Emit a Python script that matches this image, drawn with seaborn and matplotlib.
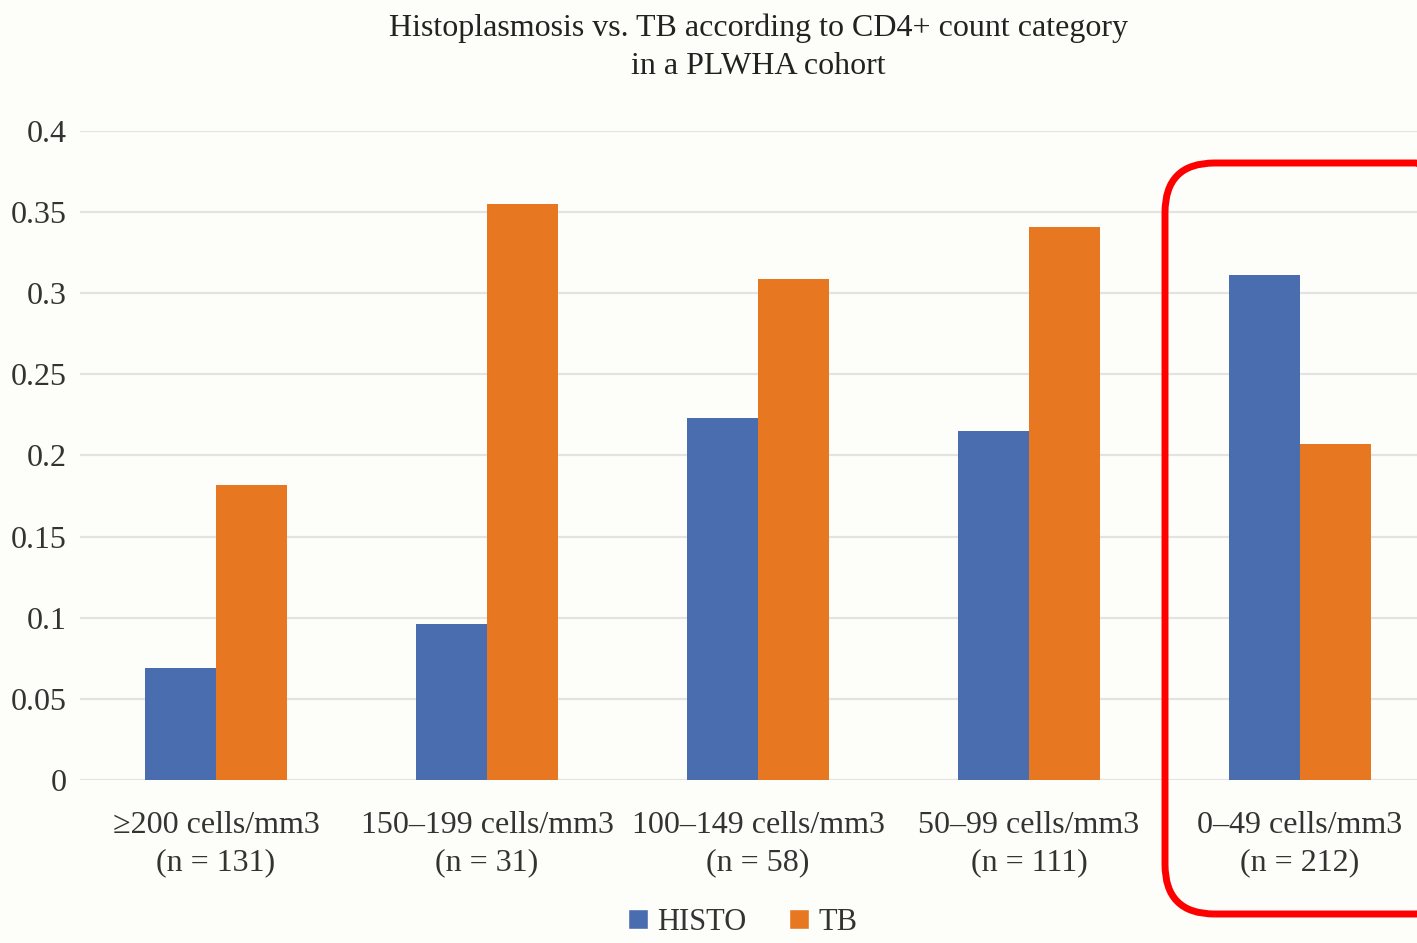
import pandas as pd
import seaborn as sns
import matplotlib.pyplot as plt
from matplotlib.patches import FancyBboxPatch, Patch

# data
categories = ["\u2265200 cells/mm3\n(n = 131)", "150\u2013199 cells/mm3\n(n = 31)",
              "100\u2013149 cells/mm3\n(n = 58)", "50\u201399 cells/mm3\n(n = 111)",
              "0\u201349 cells/mm3\n(n = 212)"]
histo = [0.069, 0.096, 0.223, 0.215, 0.311]
tb = [0.182, 0.355, 0.309, 0.341, 0.207]
series = ["HISTO", "TB"]
yticks = [0, 0.05, 0.1, 0.15, 0.2, 0.25, 0.3, 0.35, 0.4]

colors = {"HISTO": "#4A6DAF", "TB": "#E87722"}
bg = "#FDFDF9"

df = pd.DataFrame({
    "cat": categories * 2,
    "series": ["HISTO"] * len(categories) + ["TB"] * len(categories),
    "value": histo + tb,
})

sns.set_theme(style="white")
plt.rcParams["font.family"] = ["Liberation Serif", "DejaVu Serif"]

fig = plt.figure(figsize=(14.17, 9.43), dpi=100, facecolor=bg)
ax = fig.add_axes([0.0568, 0.1729, 0.9563, 0.6882])
ax.set_facecolor(bg)

sns.barplot(data=df, x="cat", y="value", hue="series", order=categories,
            hue_order=series, palette=colors, width=0.524, saturation=1,
            linewidth=0, ax=ax, legend=False)

ax.set_ylim(0, 0.4)
ax.set_xlim(-0.5, 4.5)
ax.set_yticks(yticks)
ax.set_yticklabels(["%g" % t for t in yticks])
ax.yaxis.grid(True, color="#E3E3E3", linewidth=1.6)
ax.set_axisbelow(True)
for s in ax.spines.values():
    s.set_visible(False)
ax.tick_params(axis="both", length=0, labelsize=23, colors="#333333")
ax.tick_params(axis="y", pad=10)
ax.tick_params(axis="x", pad=22)
for lbl in ax.get_xticklabels():
    lbl.set_linespacing(1.4)
ax.set_xlabel("")
ax.set_ylabel("")

fig.text(0.535, 1 - 47 / 943, "Histoplasmosis vs. TB according to CD4+ count category\nin a PLWHA cohort",
         ha="center", va="center", fontsize=23, color="#222222", linespacing=1.4)

handles = [Patch(facecolor=colors[s], label=s) for s in series]
fig.legend(handles=handles, loc="center", bbox_to_anchor=(0.524, 1 - 922 / 943), ncol=2,
           frameon=False, fontsize=22, handlelength=0.65, handleheight=0.65,
           handletextpad=0.3, columnspacing=1.4, labelcolor="#333333",
           borderpad=0.1)

# red highlight around the last group
box = FancyBboxPatch((1165 / 1417, 1 - 914 / 943), 300 / 1417, (914 - 163) / 943,
                     boxstyle="round,pad=0,rounding_size=0.035",
                     transform=fig.transFigure, fill=False, edgecolor="#FF0000",
                     linewidth=5, mutation_aspect=1417 / 943)
fig.patches.append(box)

fig.savefig("out.png", dpi=100, facecolor=bg)
